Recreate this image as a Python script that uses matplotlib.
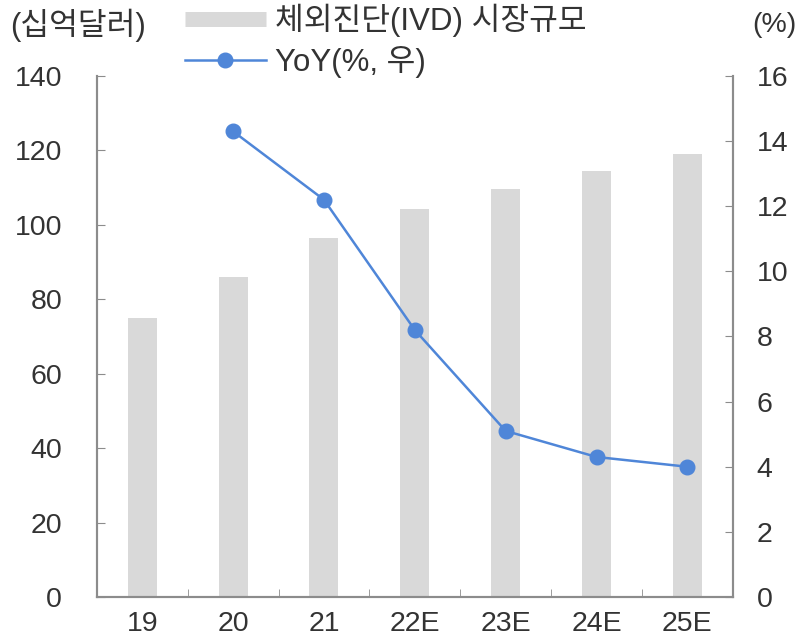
import matplotlib
matplotlib.use("Agg")
import matplotlib.pyplot as plt
from matplotlib.lines import Line2D
import numpy as np

plt.rcParams['font.family'] = ['Liberation Sans', 'Noto Sans CJK KR']

years = ['19', '20', '21', '22E', '23E', '24E', '25E']
market_size = [75.0, 86.0, 96.5, 104.3, 109.6, 114.5, 119.1]
yoy_years = ['20', '21', '22E', '23E', '24E', '25E']
yoy = [14.3, 12.2, 8.2, 5.1, 4.3, 4.0]

TEXT = '#333333'
SPINE = '#8c8c8c'
BAR = '#d9d9d9'
LINE = '#4f86d8'
FS = 20.5
FS_KR = 22.5

fig = plt.figure(figsize=(8, 6.44), dpi=100)
ax = fig.add_axes([0.121, 0.073, 0.795, 0.809])
ax2 = ax.twinx()

x = np.arange(len(years))
ax.bar(x, market_size, width=0.32, color=BAR, zorder=1)
xi = [years.index(y) for y in yoy_years]
ax2.plot(xi, yoy, color=LINE, lw=1.8, marker='o', ms=10.5, zorder=3)

ax.set_xlim(-0.5, len(years) - 0.5)
ax.set_ylim(0, 140)
ax.set_yticks(range(0, 141, 20))
ax2.set_ylim(0, 16)
ax2.set_yticks(range(0, 17, 2))

ax.set_xticks(x)
ax.set_xticklabels(years)
ax.set_xticks(np.arange(0.5, len(years) - 0.5, 1), minor=True)
ax.tick_params(axis='x', which='major', length=0, pad=10, labelsize=FS, colors=TEXT)
ax.tick_params(axis='x', which='minor', direction='in', length=6, color=SPINE)
ax.tick_params(axis='y', direction='in', length=6, color=SPINE, labelsize=FS, labelcolor=TEXT, pad=25)
ax2.tick_params(axis='y', direction='in', length=6, color=SPINE, labelsize=FS, labelcolor=TEXT, pad=17)

for a in (ax, ax2):
    a.spines['top'].set_visible(False)
    for s in ('left', 'right', 'bottom'):
        a.spines[s].set_color(SPINE)
        a.spines[s].set_linewidth(1.5)

fig.text(0.0125, 0.961, '(십억달러)', fontsize=FS_KR, color=TEXT, va='center')
fig.text(0.94, 0.961, '(%)', fontsize=FS, color=TEXT, va='center')

# legend proxies: thin grey band for the bars, line+marker for YoY
handles = [Line2D([], [], color=BAR, lw=10.8, solid_capstyle='butt'),
           Line2D([], [], color=LINE, lw=1.8, marker='o', ms=10.5)]
labels = ['체외진단(IVD) 시장규모', 'YoY(%, 우)']
fig.legend(handles, labels, loc='upper left', bbox_to_anchor=(0.231, 0.995),
           frameon=False, fontsize=FS_KR, labelcolor=TEXT, handlelength=2.6,
           handletextpad=0.3, labelspacing=0.3, borderpad=0, borderaxespad=0)

fig.savefig('out.png', dpi=100)
